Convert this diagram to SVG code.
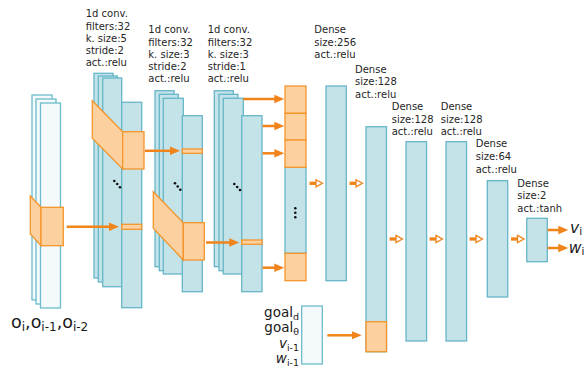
<svg xmlns="http://www.w3.org/2000/svg" width="587" height="368" viewBox="0 0 587 368">
  <style>
    .lbl { font-family: "DejaVu Sans", "Liberation Sans", sans-serif; font-size: 10px; fill: #262626; }
    .big { font-family: "DejaVu Sans", "Liberation Sans", sans-serif; fill: #1a1a1a; }
    .inp { fill: #f4fafc; stroke: #6cbccc; stroke-width: 1.3; }
    .blk { fill: #c3e3e9; stroke: #66b6c8; stroke-width: 1.3; }
    .org { fill: #fdd09f; stroke: #f4952c; stroke-width: 1.3; }
    .arr { stroke: #f0841a; stroke-width: 2.5; fill: none; }
    .dot { fill: #111; }
  </style>
  <defs>
    <marker id="ah" markerUnits="userSpaceOnUse" markerWidth="12" markerHeight="10" refX="4" refY="5" orient="auto">
      <path d="M0,0.8 L10,5 L0,9.2 Z" fill="#f0841a"/>
    </marker>
    <!-- hollow-headed arrow between dense layers -->
    <g id="ha">
      <line x1="0" y1="0" x2="7" y2="0" stroke="#f0841a" stroke-width="3.3"/>
      <path d="M6.5,-3.6 L13,0 L6.5,3.6 Z" fill="#fff" stroke="#f0841a" stroke-width="1.3"/>
    </g>
  </defs>

  <!-- input observations -->
  <g id="input">
    <rect class="inp" x="32" y="95" width="20" height="205"/>
    <rect class="inp" x="36" y="99" width="20" height="205"/>
    <rect class="inp" x="40.5" y="103" width="20" height="205"/>
    <polygon class="org" points="30.3,196 41,207.3 41,245.7 30.3,234"/>
    <rect class="org" x="41" y="207.3" width="22.3" height="38.4"/>
    <text class="big" x="11" y="328" font-size="17.5">o<tspan font-size="12" dy="3">i</tspan><tspan dy="-3">,o</tspan><tspan font-size="12" dy="3">i-1</tspan><tspan dy="-3">,o</tspan><tspan font-size="12" dy="3">i-2</tspan></text>
  </g>

  <!-- 1d conv layer 1 -->
  <g id="conv1">
    <rect class="blk" x="94" y="73.3" width="19" height="204.7"/>
    <rect class="blk" x="98.3" y="76" width="19" height="206"/>
    <rect class="blk" x="102.7" y="78" width="19" height="208.7"/>
    <rect class="blk" x="121.7" y="102.3" width="20" height="205.4"/>
    <rect class="org" x="121.7" y="224.3" width="20" height="5"/>
    <polygon class="org" points="92.3,100.7 122.7,131.7 122.7,169 92.3,138.3"/>
    <rect class="org" x="122.7" y="131.7" width="21.3" height="37.3"/>
    <circle class="dot" cx="114.3" cy="181" r="1.3"/>
    <circle class="dot" cx="117.2" cy="184" r="1.3"/>
    <circle class="dot" cx="120" cy="187.2" r="1.3"/>
    <text class="lbl" x="85.7"><tspan x="85.7" y="17.3">1d conv.</tspan><tspan x="85.7" y="29.5">filters:32</tspan><tspan x="85.7" y="41.7">k. size:5</tspan><tspan x="85.7" y="53.9">stride:2</tspan><tspan x="85.7" y="66.1">act.:relu</tspan></text>
  </g>

  <!-- 1d conv layer 2 -->
  <g id="conv2">
    <rect class="blk" x="155" y="90.7" width="19" height="176"/>
    <rect class="blk" x="159.3" y="94.3" width="19" height="176.4"/>
    <rect class="blk" x="163.3" y="98.3" width="20" height="175.7"/>
    <rect class="blk" x="182.3" y="115.7" width="20" height="176"/>
    <rect class="org" x="182.3" y="149" width="20" height="4.3"/>
    <polygon class="org" points="153.3,191.7 183.3,222.7 183.3,260 153.3,228.3"/>
    <rect class="org" x="183.3" y="222.7" width="21" height="37.3"/>
    <circle class="dot" cx="175" cy="183.3" r="1.3"/>
    <circle class="dot" cx="177.7" cy="186.5" r="1.3"/>
    <circle class="dot" cx="180.3" cy="189.7" r="1.3"/>
    <text class="lbl"><tspan x="148.3" y="33.3">1d conv.</tspan><tspan x="148.3" y="45.5">filters:32</tspan><tspan x="148.3" y="57.7">k. size:3</tspan><tspan x="148.3" y="69.9">stride:2</tspan><tspan x="148.3" y="82.1">act.:relu</tspan></text>
  </g>

  <!-- 1d conv layer 3 -->
  <g id="conv3">
    <rect class="blk" x="214.3" y="90.7" width="19" height="176"/>
    <rect class="blk" x="219" y="94.3" width="19" height="176.4"/>
    <rect class="blk" x="223.3" y="98.3" width="20" height="175.7"/>
    <rect class="blk" x="241.7" y="115.7" width="20.3" height="176"/>
    <rect class="org" x="241.7" y="240" width="20.3" height="4.3"/>
    <circle class="dot" cx="234.3" cy="184" r="1.3"/>
    <circle class="dot" cx="237.2" cy="187" r="1.3"/>
    <circle class="dot" cx="240" cy="190" r="1.3"/>
    <text class="lbl"><tspan x="207.7" y="33.3">1d conv.</tspan><tspan x="207.7" y="45.5">filters:32</tspan><tspan x="207.7" y="57.7">k. size:3</tspan><tspan x="207.7" y="69.9">stride:1</tspan><tspan x="207.7" y="82.1">act.:relu</tspan></text>
  </g>

  <!-- flattened features -->
  <g id="flatten">
    <rect class="blk" x="285" y="167.3" width="21" height="86"/>
    <rect class="org" x="285" y="86" width="21" height="27.3"/>
    <rect class="org" x="285" y="113.3" width="21" height="26.7"/>
    <rect class="org" x="285" y="140" width="21" height="27.3"/>
    <rect class="org" x="285" y="253.3" width="21" height="27.4"/>
    <circle class="dot" cx="295.3" cy="208.3" r="1.3"/>
    <circle class="dot" cx="295.3" cy="212.8" r="1.3"/>
    <circle class="dot" cx="295.3" cy="217.3" r="1.3"/>
  </g>

  <!-- dense layers -->
  <g id="dense1">
    <rect class="blk" x="326" y="86" width="20.3" height="194.7"/>
    <text class="lbl"><tspan x="314.3" y="33.3">Dense</tspan><tspan x="314.3" y="45.8">size:256</tspan><tspan x="314.3" y="58.3">act.:relu</tspan></text>
  </g>
  <g id="dense2">
    <rect class="blk" x="366" y="126.7" width="20.5" height="225"/>
    <rect class="org" x="366" y="321.7" width="20.5" height="30"/>
    <text class="lbl"><tspan x="355" y="72.7">Dense</tspan><tspan x="355" y="85.2">size:128</tspan><tspan x="355" y="97.7">act.:relu</tspan></text>
  </g>
  <g id="dense3">
    <rect class="blk" x="406" y="141.7" width="20.6" height="199.3"/>
    <text class="lbl"><tspan x="391.7" y="110.3">Dense</tspan><tspan x="391.7" y="122.7">size:128</tspan><tspan x="391.7" y="135.1">act.:relu</tspan></text>
  </g>
  <g id="dense4">
    <rect class="blk" x="446" y="141.7" width="20.6" height="199.3"/>
    <text class="lbl"><tspan x="440.7" y="110.3">Dense</tspan><tspan x="440.7" y="122.7">size:128</tspan><tspan x="440.7" y="135.1">act.:relu</tspan></text>
  </g>
  <g id="dense5">
    <rect class="blk" x="487.3" y="180.7" width="20.4" height="116.3"/>
    <text class="lbl"><tspan x="475.7" y="147.3">Dense</tspan><tspan x="475.7" y="160">size:64</tspan><tspan x="475.7" y="172.7">act.:relu</tspan></text>
  </g>
  <g id="dense6">
    <rect class="blk" x="526.7" y="218.3" width="20.6" height="43.4"/>
    <text class="lbl"><tspan x="517.3" y="186.5">Dense</tspan><tspan x="517.3" y="199">size:2</tspan><tspan x="517.3" y="211.5">act.:tanh</tspan></text>
  </g>

  <!-- goal and previous velocity input -->
  <g id="goal">
    <rect class="inp" x="301.7" y="306" width="20.6" height="58"/>
    <text class="big" x="299" y="316.7" font-size="13.5" text-anchor="end">goal<tspan font-size="9.5" dy="3">d</tspan></text>
    <text class="big" x="299" y="331.7" font-size="13.5" text-anchor="end">goal<tspan font-size="9.5" dy="3">θ</tspan></text>
    <text class="big" x="299" y="348" font-size="13.5" text-anchor="end"><tspan font-style="italic">v</tspan><tspan font-size="9.5" dy="3">i-1</tspan></text>
    <text class="big" x="299" y="362.5" font-size="13.5" text-anchor="end"><tspan font-style="italic">w</tspan><tspan font-size="9.5" dy="3">i-1</tspan></text>
  </g>

  <!-- outputs -->
  <g id="outputs">
    <text class="big" x="570" y="232.5" font-size="15.5"><tspan font-style="italic">v</tspan><tspan font-size="10.5" dy="2.5">i</tspan></text>
    <text class="big" x="568.7" y="252.5" font-size="15.5"><tspan font-style="italic">w</tspan><tspan font-size="10.5" dy="2.5">i</tspan></text>
  </g>

  <!-- connectors -->
  <g id="connectors">
    <line class="arr" x1="66.7" y1="226.8" x2="113" y2="226.8" marker-end="url(#ah)"/>
    <line class="arr" x1="145" y1="150.8" x2="174" y2="150.8" marker-end="url(#ah)"/>
    <line class="arr" x1="206" y1="242.5" x2="233.3" y2="242.5" marker-end="url(#ah)"/>
    <line class="arr" x1="243.3" y1="99" x2="278.3" y2="99" stroke-width="2" marker-end="url(#ah)"/>
    <line class="arr" x1="262.5" y1="126" x2="278.3" y2="126" stroke-width="2" marker-end="url(#ah)"/>
    <line class="arr" x1="262.5" y1="153.3" x2="278.3" y2="153.3" stroke-width="2" marker-end="url(#ah)"/>
    <line class="arr" x1="262.5" y1="267.7" x2="278.3" y2="267.7" stroke-width="2" marker-end="url(#ah)"/>
    <line class="arr" x1="327.3" y1="335.3" x2="355.7" y2="335.3" stroke-width="2" marker-end="url(#ah)"/>
    <line class="arr" x1="547.5" y1="230" x2="562.3" y2="230" stroke-width="3" marker-end="url(#ah)"/>
    <line class="arr" x1="547.5" y1="248" x2="562.3" y2="248" stroke-width="3" marker-end="url(#ah)"/>
    <use href="#ha" x="309.5" y="183.3"/>
    <use href="#ha" x="349.5" y="183.3"/>
    <use href="#ha" x="389.5" y="239"/>
    <use href="#ha" x="429.5" y="239"/>
    <use href="#ha" x="469.5" y="239"/>
    <use href="#ha" x="511" y="239"/>
  </g>
</svg>
